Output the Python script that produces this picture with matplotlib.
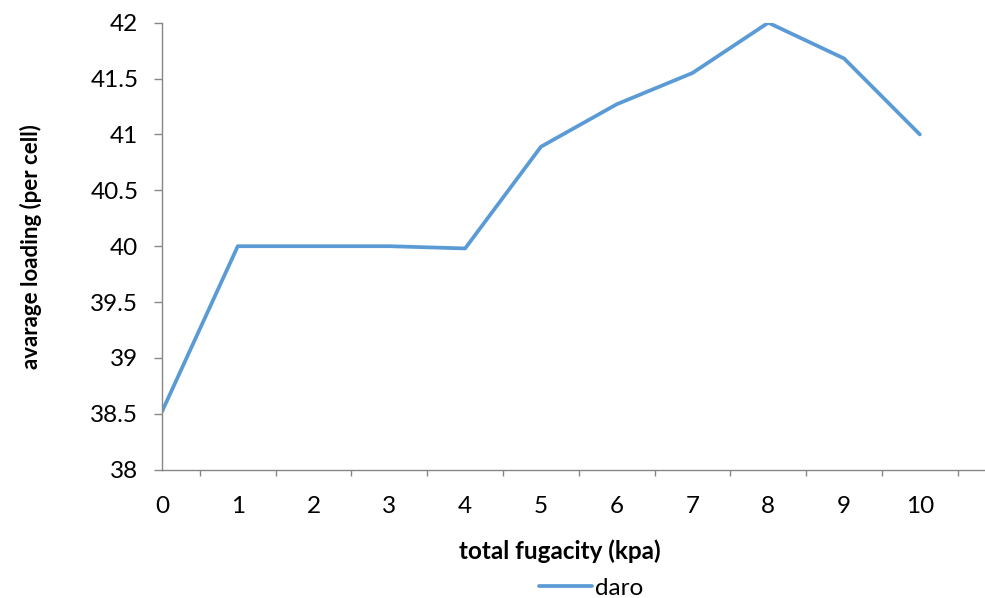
import matplotlib
matplotlib.use("Agg")
import matplotlib.pyplot as plt
from matplotlib.ticker import FixedLocator

plt.rcParams['font.family'] = ['Lato', 'DejaVu Sans']

# fugacity steps and average loading per cell
fugacity = [0, 1, 2, 3, 4, 5, 6, 7, 8, 9, 10]
loading = [38.52, 40.0, 40.0, 40.0, 39.98, 40.89, 41.27, 41.55, 42.0, 41.68, 41.0]
y_ticks = [38, 38.5, 39, 39.5, 40, 40.5, 41, 41.5, 42]
y_labels = ['38', '38.5', '39', '39.5', '40', '40.5', '41', '41.5', '42']

grey = '#868686'
blue = '#5B9BD5'

fig = plt.figure(figsize=(9.85, 5.98), dpi=100)
ax = fig.add_axes([162 / 985, 1 - 469.7 / 598, (985 - 162) / 985, (469.7 - 22.7) / 598])

ax.plot(fugacity, loading, color=blue, lw=2.7, label='daro', solid_capstyle='round')

ax.set_ylim(38, 42)
ax.set_xlim(0, 10.86)

ax.set_yticks(y_ticks)
ax.set_yticklabels(y_labels)
ax.set_xticks(fugacity)
ax.set_xticklabels([str(f) for f in fugacity])
# tick marks sit between the category labels
ax.xaxis.set_minor_locator(FixedLocator([f + 0.5 for f in fugacity]))

for side in ['top', 'right']:
    ax.spines[side].set_visible(False)
for side in ['left', 'bottom']:
    ax.spines[side].set_color(grey)
    ax.spines[side].set_linewidth(1.0)

ax.tick_params(axis='y', direction='out', length=6, color=grey, width=1.0,
               labelsize=17.5, pad=11, labelcolor='black')
ax.tick_params(axis='x', which='major', length=0, labelsize=17.5, pad=19)
ax.tick_params(axis='x', which='minor', direction='out', length=4.5, color=grey, width=1.0)

ax.set_xlabel('total fugacity (kpa)', fontsize=17.5, fontweight='bold')
ax.set_ylabel('avarage loading (per cell)', fontsize=16, fontweight='bold')
ax.xaxis.set_label_coords((560 - 162) / 823, -(539 - 469.7) / 447)
ax.yaxis.set_label_coords(-(162 - 42) / 823, 0.5)

fig.legend(loc='center', bbox_to_anchor=(591 / 985, 1 - 588 / 598), frameon=False,
           fontsize=17.5, handlelength=2.2, handletextpad=0.1, borderpad=0)

fig.savefig('out.png', dpi=100)
